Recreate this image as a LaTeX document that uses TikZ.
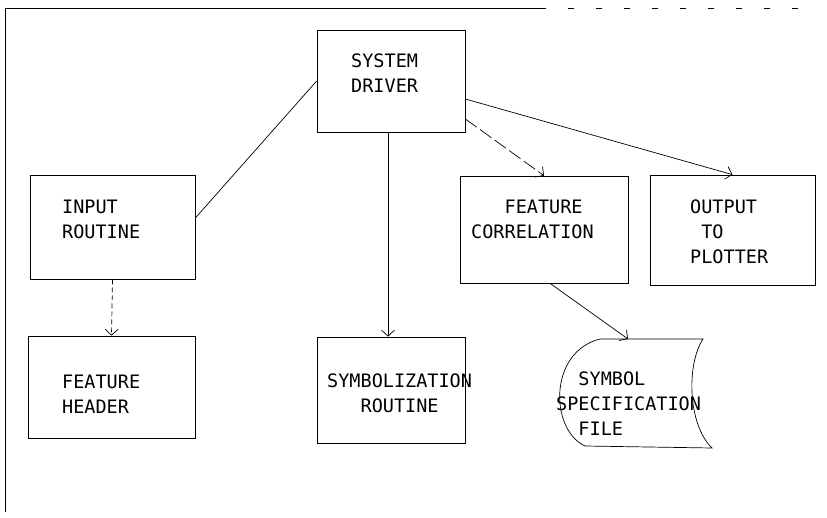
\documentclass[tikz,border=0pt]{standalone}
\usepackage{fontspec}
\setmonofont{DejaVu Sans Mono}
\usetikzlibrary{arrows.meta}

\begin{document}
\begin{tikzpicture}[x=1pt,y=-1pt,
  every node/.style={font=\ttfamily\fontsize{18.5}{25}\selectfont},
  blk/.style={draw,line width=0.7pt,inner sep=0pt},
  txt/.style={anchor=north west,align=left,inner sep=0pt},
  conn/.style={line width=0.7pt},
  arr/.style={conn,-{Straight Barb[length=6pt,width=13pt]}}]

\useasboundingbox (0,0) rectangle (827,518);

\draw[line width=0.9pt] (5,512) -- (5,8) -- (540,8);
\draw[line width=0.7pt,dash pattern=on 6pt off 22pt] (540,8) -- (815,8);

\node[blk,minimum width=148pt,minimum height=102pt] (drv) at (391,81) {};
\node[txt] (drv-t) at (351,53.5) {SYSTEM\\DRIVER};

\node[blk,minimum width=165pt,minimum height=104pt] (inp) at (112.5,227) {};
\node[txt] (inp-t) at (62,199.5) {INPUT\\ROUTINE};

\node[blk,minimum width=167pt,minimum height=102pt] (hdr) at (111.5,387) {};
\node[txt] (hdr-t) at (62,374.5) {FEATURE\\HEADER};

\node[blk,minimum width=148pt,minimum height=106pt] (sym) at (391,390) {};
\node[txt,align=center] (sym-t) at (327,373.5) {SYMBOLIZATION\\ROUTINE};

\node[blk,minimum width=168pt,minimum height=107pt] (fc) at (544,229.5) {};
\node[txt] (fc-t) at (471,199.5) {\phantom{XXX}FEATURE\\CORRELATION};

\node[blk,minimum width=165pt,minimum height=110pt] (out) at (732.5,230) {};
\node[txt] (out-t) at (690,199.5) {OUTPUT\\\phantom{X}TO\\PLOTTER};

\draw[line width=0.7pt] (600,339) -- (703,339)
  .. controls (686,365) and (688,425) .. (712,448) -- (585,446)
  .. controls (550,430) and (548,352) .. (600,339);
\coordinate (file) at (628,339);
\node[txt] (file-t) at (556,371.5) {\phantom{XX}SYMBOL\\SPECIFICATION\\\phantom{XX}FILE};

\draw[conn] ([yshift=9pt]inp.east) -- (drv.west);
\draw[arr] ([xshift=-3pt]drv.south) -- ([xshift=-3pt]sym.north);
\draw[arr,dash pattern=on 14pt off 4pt] ([yshift=-38pt]drv.east) -- (fc.north);
\draw[arr] ([yshift=-18pt]drv.east) -- (out.north);
\draw[arr,dash pattern=on 5pt off 3pt] (inp.south) -- (hdr.north);
\draw[arr] ([xshift=6pt]fc.south) -- (file);

\end{tikzpicture}
\end{document}
